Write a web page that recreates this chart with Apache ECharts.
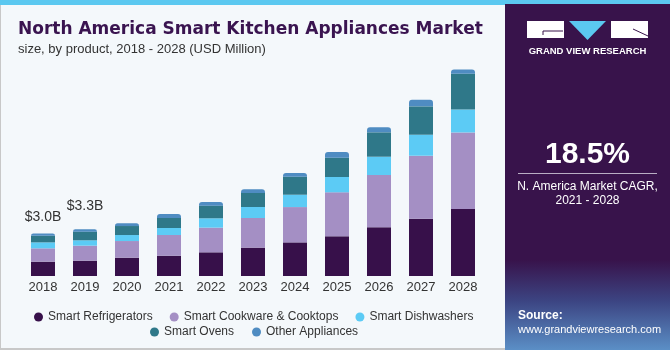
<!DOCTYPE html>
<html><head><meta charset="utf-8">
<script src="https://cdn.jsdelivr.net/npm/echarts@6/dist/echarts.min.js"></script>
<style>html,body{margin:0;padding:0;background:#f4f8fb}#c{width:670px;height:350px}</style>
</head><body><div id="c"></div>
<script>
const years = ['2018','2019','2020','2021','2022','2023','2024','2025','2026','2027','2028'];
const refrigerators = [1010,1080,1290,1430,1670,2000,2370,2800,3430,4040,4720];
const cookware = [940,1060,1175,1460,1740,2090,2490,3100,3690,4440,5400];
const dishwashers = [420,376,423,494,658,776,870,1080,1290,1480,1620];
const ovens = [470,610,635,705,893,987,1270,1360,1720,2000,2520];
const other = [165,165,188,282,259,259,259,400,353,470,306];
const totalLabels = {0:'$3.0B', 1:'$3.3B'};
const labelDistance = {0:9, 1:16};

const FONT = 'Liberation Sans';
const chart = echarts.init(document.getElementById('c'), null, {renderer:'canvas'});

function seriesOf(name, data, color, top) {
  return {
    name, type:'bar', stack:'total', barWidth:24,
    itemStyle:{color, borderRadius: top ? [3,3,0,0] : 0},
    data: data.map((v,i) => {
      if (top && totalLabels[i]) {
        return {value:v, label:{show:true, position:'top', distance:labelDistance[i], formatter:totalLabels[i],
          color:'#333', fontSize:14, fontFamily:FONT}};
      }
      return v;
    })
  };
}

const option = {
  backgroundColor:'#f4f8fb',
  animation:false,
  grid:{left:22, right:186, top:66, bottom:74},
  xAxis:{type:'category', data:years, axisLine:{show:false}, axisTick:{show:false},
    axisLabel:{color:'#333', fontSize:13, fontFamily:FONT, margin:5}},
  yAxis:{type:'value', min:0, max:14805, show:false, splitLine:{show:false}},
  legend:[
    {left:29, top:306, icon:'circle', itemWidth:9, itemHeight:9, itemGap:17,
     textStyle:{color:'#333', fontSize:12, fontFamily:FONT},
     data:['Smart Refrigerators','Smart Cookware & Cooktops','Smart Dishwashers']},
    {left:145, top:321, icon:'circle', itemWidth:9, itemHeight:9, itemGap:18,
     textStyle:{color:'#333', fontSize:12, fontFamily:FONT},
     data:['Smart Ovens','Other Appliances']}
  ],
  series:[
    seriesOf('Smart Refrigerators', refrigerators, '#37104a'),
    seriesOf('Smart Cookware & Cooktops', cookware, '#a48fc4'),
    seriesOf('Smart Dishwashers', dishwashers, '#5ccbf5'),
    seriesOf('Smart Ovens', ovens, '#2f7889'),
    seriesOf('Other Appliances', other, '#4f8cc2', true)
  ],
  graphic:[
    {type:'rect', left:0, top:0, shape:{width:1, height:350}, style:{fill:'#c8c8c8'}},
    {type:'rect', left:0, top:348, shape:{width:670, height:2}, style:{fill:'#c8c8c8'}},
    {type:'rect', shape:{x:505, y:4, width:165, height:346},
      style:{fill:new echarts.graphic.LinearGradient(0,0,0,1,[
        {offset:0,color:'#38134b'},{offset:0.74,color:'#38134b'},
        {offset:0.86,color:'#3c4583'},{offset:1,color:'#5b8fc6'}])}},
    {type:'rect', shape:{x:0, y:0, width:505, height:5}, style:{fill:'#5bc8f0'}},
    {type:'rect', shape:{x:505, y:0, width:165, height:4}, style:{fill:'#5bc8f0'}},
    {type:'text', x:18, y:30, style:{text:'North America Smart Kitchen Appliances Market', fill:'#3a1450',
      verticalAlign:'middle', font:'bold 17px "DejaVu Sans"'}},
    {type:'text', left:18, top:43, style:{text:'size, by product, 2018 - 2028 (USD Million)', fill:'#333',
      font:'13px "Liberation Sans"'}},
    // logo
    {type:'rect', shape:{x:527, y:21, width:37, height:17}, style:{fill:'#fff'}},
    {type:'polyline', shape:{points:[[543,35],[543,31],[563,31]]}, style:{stroke:'#38134b', lineWidth:1, fill:null}},
    {type:'polygon', shape:{points:[[569,21],[606,21],[587.5,40]]}, style:{fill:'#5bc8f0'}},
    {type:'rect', shape:{x:611, y:21, width:37, height:17}, style:{fill:'#fff'}},
    {type:'polyline', shape:{points:[[633,29],[648,36]]}, style:{stroke:'#38134b', lineWidth:1}},
    {type:'text', x:587.5, y:51, style:{text:'GRAND VIEW RESEARCH', fill:'#fff', align:'center', verticalAlign:'middle',
      font:'bold 9.5px "Liberation Sans"'}},
    {type:'text', x:587.5, y:155, style:{text:'18.5%', fill:'#fff', align:'center', verticalAlign:'middle',
      font:'bold 30px "Liberation Sans"'}},
    {type:'rect', shape:{x:518, y:173, width:139, height:1}, style:{fill:'#b9aec4'}},
    {type:'text', x:587.5, y:187, style:{text:'N. America Market CAGR,', fill:'#fff', align:'center', verticalAlign:'middle',
      font:'12px "Liberation Sans"'}},
    {type:'text', x:587.5, y:201, style:{text:'2021 - 2028', fill:'#fff', align:'center', verticalAlign:'middle',
      font:'12px "Liberation Sans"'}},
    {type:'text', x:518, y:316, style:{text:'Source:', fill:'#fff', verticalAlign:'middle',
      font:'bold 12px "Liberation Sans"'}},
    {type:'text', x:518, y:330, style:{text:'www.grandviewresearch.com', fill:'#fff', verticalAlign:'middle',
      font:'11px "Liberation Sans"'}}
  ]
};
chart.setOption(option);
</script></body></html>
